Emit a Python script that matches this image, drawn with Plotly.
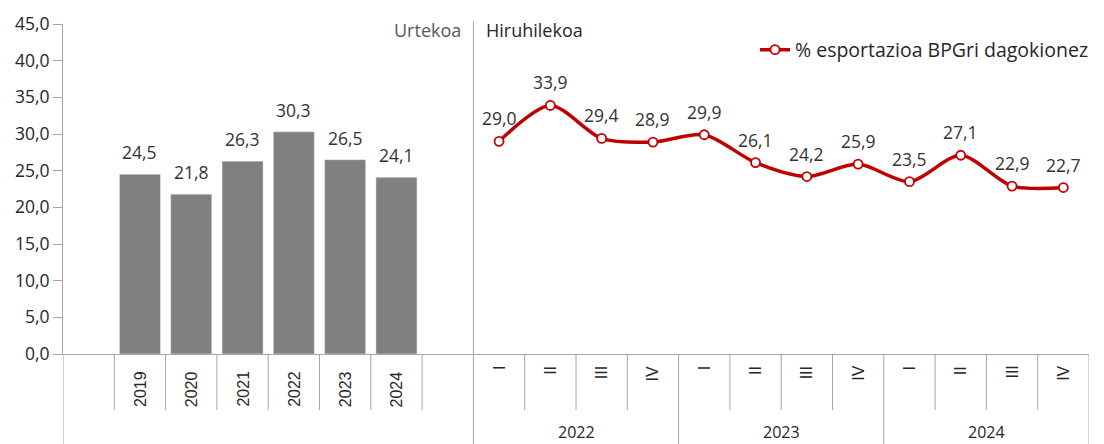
import plotly.graph_objects as go

# ---- data ----
years = ["2019", "2020", "2021", "2022", "2023", "2024"]
annual_values = [24.5, 21.8, 26.3, 30.3, 26.5, 24.1]

quarter_labels = ["I", "II", "III", "IV"] * 3
quarter_years = ["2022", "2023", "2024"]
quarterly_values = [29.0, 33.9, 29.4, 28.9, 29.9, 26.1, 24.2, 25.9, 23.5, 27.1, 22.9, 22.7]

series_name = "% esportazioa BPGri dagokionez"
section_labels = ["Urtekoa", "Hiruhilekoa"]

# ---- positions on a shared numeric category axis ----
n_lead = 1                      # empty slot before annual bars
bar_x = [n_lead + i for i in range(len(years))]
split = bar_x[-1] + 1.5         # boundary between annual and quarterly sections
q_x = [int(split + 0.5) + i for i in range(len(quarterly_values))]
x_max = q_x[-1] + 0.5

def fmt(v):
    return f"{v:.1f}".replace(".", ",")

FONT = "Open Sans"
LBL = dict(family=FONT, size=17.5, color="#333333")

# plot area in page pixels (page has an 8px body margin)
PL, PT, PB = 63, 24, 354
PH = PB - PT
def py(screen_y):
    return (PB - screen_y) / PH

fig = go.Figure()

fig.add_trace(go.Bar(
    x=bar_x, y=annual_values, marker_color="#808080", width=0.8,
    showlegend=False, hoverinfo="skip",
))

fig.add_trace(go.Scatter(
    x=q_x, y=quarterly_values, mode="lines+markers", name=series_name,
    line=dict(color="#C00000", width=3.5, shape="spline", smoothing=0.8),
    marker=dict(symbol="circle", size=9, color="white",
                line=dict(color="#C00000", width=1.8)),
    cliponaxis=False,
))

axis_gray = "#A6A6A6"
shapes = []
annotations = []

# value labels
for bx, v in zip(bar_x, annual_values):
    annotations.append(dict(x=bx, y=v, xref="x", yref="y", text=fmt(v), showarrow=False,
                            yanchor="middle", yshift=22, font=LBL))
for qx, v in zip(q_x, quarterly_values):
    annotations.append(dict(x=qx, y=v, xref="x", yref="y", text=fmt(v), showarrow=False,
                            yanchor="middle", yshift=23, font=LBL))

# leftmost boundary line (full height below axis)
shapes.append(dict(type="line", xref="x", yref="paper", x0=-0.5, x1=-0.5,
                   y0=0, y1=py(446), line=dict(color=axis_gray, width=1)))
# annual section separators
for xv in [bar_x[0] - 0.5] + [b + 0.5 for b in bar_x]:
    shapes.append(dict(type="line", xref="x", yref="paper", x0=xv, x1=xv,
                       y0=0, y1=py(410), line=dict(color=axis_gray, width=1)))
# divider between sections
shapes.append(dict(type="line", xref="x", yref="paper", x0=split, x1=split,
                   y0=py(21), y1=py(446), line=dict(color=axis_gray, width=1)))
# quarterly separators
for i, qx in enumerate(q_x):
    xv = qx + 0.5
    long = (i % 4 == 3)
    shapes.append(dict(type="line", xref="x", yref="paper", x0=xv, x1=xv,
                       y0=0, y1=(py(446) if long else py(410)),
                       line=dict(color=axis_gray, width=1)))

# annual tick labels (rotated)
for bx, yr in zip(bar_x, years):
    annotations.append(dict(x=bx, y=0, xref="x", yref="paper", text=yr,
                            textangle=-90, showarrow=False, yanchor="top",
                            yshift=-15, font=dict(family="Liberation Sans", size=16, color="#262626")))
# quarter tick labels (rotated)
for qx, ql in zip(q_x, quarter_labels):
    annotations.append(dict(x=qx, y=0, xref="x", yref="paper", text=ql,
                            textangle=-90, showarrow=False, yanchor="top",
                            yshift=-10, font=dict(family="Liberation Sans", size=16, color="#262626")))
# quarter group year labels
for gi, gy in enumerate(quarter_years):
    cx = (q_x[gi * 4] + q_x[gi * 4 + 3]) / 2
    annotations.append(dict(x=cx, y=py(432), xref="x", yref="paper", text=gy,
                            showarrow=False, yanchor="middle",
                            font=dict(family=FONT, size=16, color="#262626")))

# section labels
annotations.append(dict(x=split, y=py(30), xref="x", yref="paper", text=section_labels[0],
                        showarrow=False, xanchor="right", xshift=-10, yanchor="middle",
                        font=dict(family=FONT, size=18, color="#595959")))
annotations.append(dict(x=split, y=py(30), xref="x", yref="paper", text=section_labels[1],
                        showarrow=False, xanchor="left", xshift=11, yanchor="middle",
                        font=dict(family=FONT, size=18, color="#262626")))

fig.update_layout(
    width=1096, height=436,
    margin=dict(l=55, r=15, t=16, b=90, autoexpand=False),
    paper_bgcolor="white", plot_bgcolor="white",
    separators=",.",
    font=dict(family=FONT, size=17, color="#262626"),
    xaxis=dict(range=[-0.5, x_max], showgrid=False, zeroline=False,
               showticklabels=False, showline=True, linecolor=axis_gray, linewidth=1,
               ticks=""),
    yaxis=dict(range=[0, 45], dtick=5, tickformat=".1f", showgrid=False,
               zeroline=False, showline=True, linecolor=axis_gray, linewidth=1,
               ticks="outside", ticklen=9, tickcolor=axis_gray,
               tickfont=dict(family=FONT, size=17.5, color="#262626")),
    legend=dict(x=(755 - PL) / 1026, xanchor="left", y=py(50), yanchor="middle",
                font=dict(family=FONT, size=19.5, color="#262626"),
                bgcolor="rgba(0,0,0,0)"),
    shapes=shapes, annotations=annotations,
)

fig.write_html("out.html")
